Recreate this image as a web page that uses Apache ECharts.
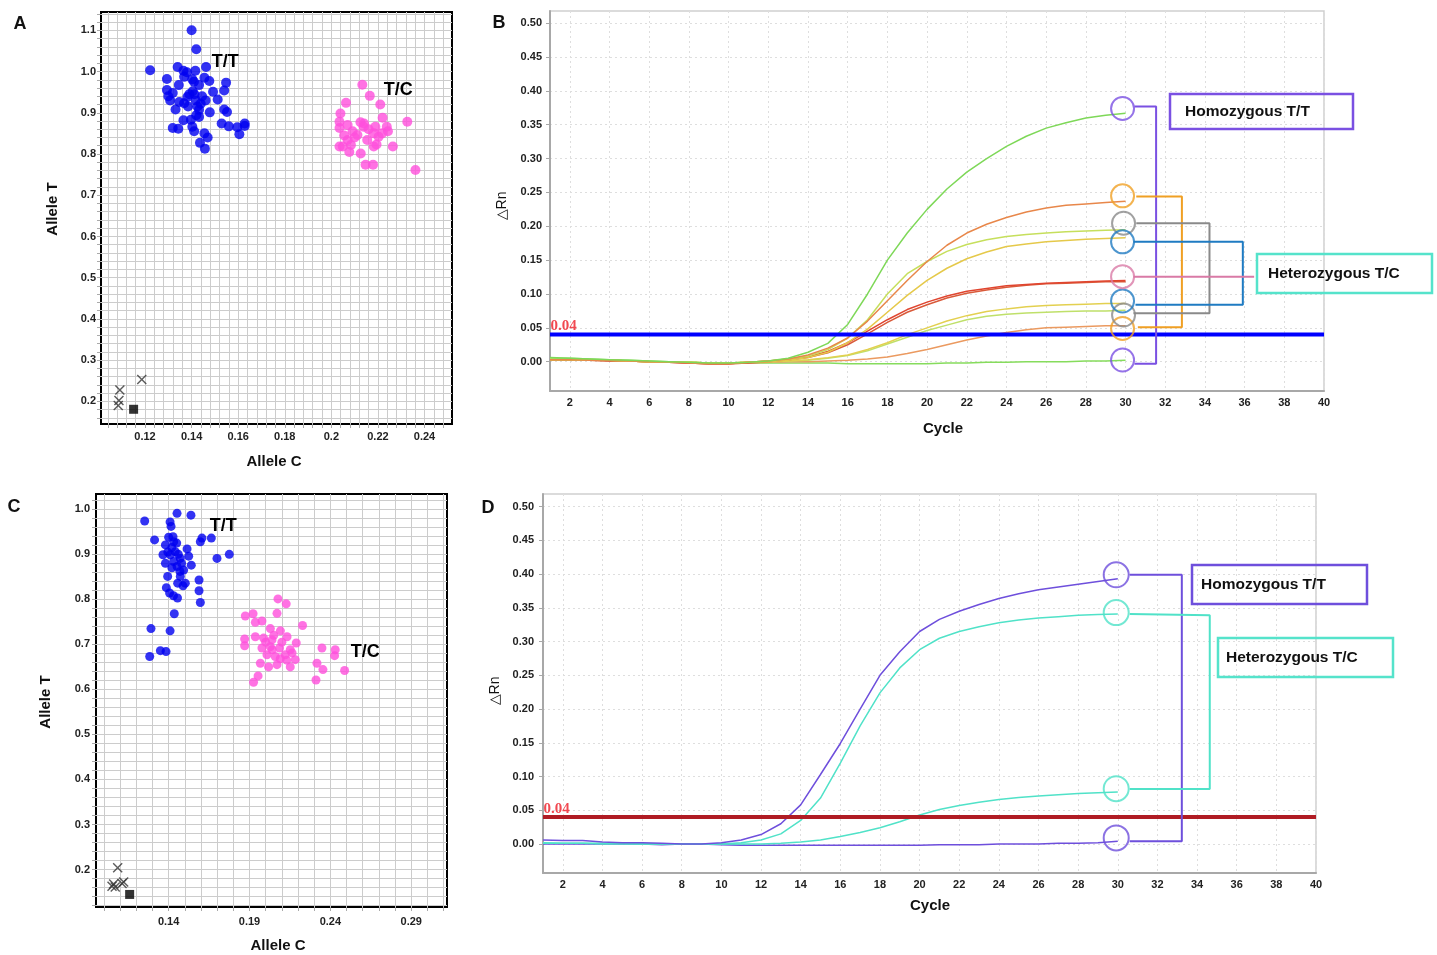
<!DOCTYPE html>
<html><head><meta charset="utf-8">
<script src="https://cdn.jsdelivr.net/npm/echarts@6/dist/echarts.min.js"></script>
<style>html,body{margin:0;padding:0;background:#fff}#c{width:1437px;height:955px}</style>
</head><body><div id="c"></div>
<script>
// ---------- DATA ----------
// Panel A scatter (Allele C, Allele T)
const aTT = [[0.1400,1.100],[0.1420,1.054],[0.1222,1.003],[0.1340,1.011],[0.1365,1.002],[0.1380,0.998],[0.1416,1.002],[0.1462,1.011],[0.1294,0.982],[0.1368,0.987],[0.1403,0.981],[0.1455,0.985],[0.1476,0.977],[0.1548,0.973],[0.1345,0.967],[0.1294,0.955],[0.1319,0.948],[0.1405,0.952],[0.1412,0.945],[0.1432,0.967],[0.1492,0.951],[0.1540,0.954],[0.1308,0.930],[0.1347,0.926],[0.1368,0.923],[0.1382,0.938],[0.1418,0.930],[0.1439,0.922],[0.1460,0.930],[0.1512,0.932],[0.1331,0.908],[0.1432,0.907],[0.1432,0.890],[0.1478,0.901],[0.1540,0.908],[0.1552,0.902],[0.1365,0.882],[0.1397,0.883],[0.1420,0.894],[0.1529,0.874],[0.1560,0.867],[0.1596,0.865],[0.1628,0.874],[0.1628,0.868],[0.1319,0.863],[0.1343,0.861],[0.1403,0.866],[0.1411,0.855],[0.1455,0.850],[0.1469,0.840],[0.1605,0.848],[0.1436,0.827],[0.1457,0.813],[0.1390,0.945],[0.1425,0.915],[0.1445,0.940],[0.1385,0.915],[0.1410,0.975],[0.1300,0.940]];
const aTC = [[0.2133,0.968],[0.2165,0.941],[0.2210,0.920],[0.2063,0.924],[0.2039,0.898],[0.2220,0.888],[0.2326,0.878],[0.2035,0.878],[0.2070,0.870],[0.2125,0.877],[0.2140,0.874],[0.2138,0.866],[0.2035,0.863],[0.2091,0.855],[0.2112,0.846],[0.2189,0.866],[0.2238,0.866],[0.2243,0.855],[0.2182,0.850],[0.2218,0.850],[0.2203,0.842],[0.2154,0.834],[0.2070,0.834],[0.2049,0.818],[0.2035,0.818],[0.2084,0.822],[0.2077,0.805],[0.2126,0.801],[0.2182,0.818],[0.2194,0.823],[0.2264,0.818],[0.2147,0.774],[0.2179,0.774],[0.2361,0.761],[0.2100,0.840],[0.2160,0.860],[0.2055,0.845]];
const aNTC = [[0.1092,0.228],[0.1088,0.202],[0.1085,0.190],[0.1186,0.253]];
const aBlank = [[0.1151,0.181]];
const aText = [[0.1544,1.0225,'T/T'],[0.2287,0.955,'T/C']];

// Panel C scatter
const cTT = [[0.1252,0.974],[0.1452,0.991],[0.1538,0.987],[0.1409,0.972],[0.1415,0.962],[0.1313,0.932],[0.1400,0.938],[0.1427,0.939],[0.1431,0.928],[0.1596,0.928],[0.1606,0.936],[0.1664,0.936],[0.1380,0.921],[0.1365,0.899],[0.1410,0.899],[0.1441,0.906],[0.1472,0.891],[0.1514,0.912],[0.1524,0.896],[0.1380,0.880],[0.1431,0.884],[0.1452,0.873],[0.1493,0.865],[0.1540,0.876],[0.1699,0.891],[0.1775,0.900],[0.1394,0.851],[0.1472,0.851],[0.1456,0.836],[0.1489,0.830],[0.1503,0.836],[0.1588,0.843],[0.1386,0.826],[0.1406,0.814],[0.1430,0.808],[0.1455,0.803],[0.1588,0.819],[0.1596,0.793],[0.1435,0.768],[0.1291,0.735],[0.1409,0.730],[0.1283,0.673],[0.1349,0.686],[0.1384,0.684],[0.1420,0.915],[0.1460,0.900],[0.1395,0.905],[0.1450,0.925],[0.1480,0.880],[0.1420,0.870],[0.1470,0.862]];
const cTC = [[0.2076,0.801],[0.2127,0.790],[0.2070,0.769],[0.1874,0.763],[0.1922,0.768],[0.1977,0.752],[0.1936,0.749],[0.2228,0.742],[0.2029,0.735],[0.2091,0.730],[0.1936,0.717],[0.1987,0.714],[0.2132,0.717],[0.1870,0.712],[0.1870,0.697],[0.2039,0.710],[0.2189,0.703],[0.1977,0.692],[0.2029,0.695],[0.2086,0.692],[0.2152,0.688],[0.2348,0.692],[0.2430,0.688],[0.2426,0.675],[0.2008,0.677],[0.2059,0.673],[0.2121,0.677],[0.2163,0.681],[0.2183,0.666],[0.1967,0.658],[0.2018,0.650],[0.2070,0.655],[0.2152,0.650],[0.2317,0.658],[0.2354,0.644],[0.2488,0.642],[0.1953,0.630],[0.1925,0.616],[0.2311,0.621],[0.2050,0.720],[0.2000,0.705],[0.2100,0.705],[0.2130,0.665],[0.2090,0.668],[0.2040,0.688]];
const cNTC = [[0.1085,0.204],[0.1050,0.163],[0.1070,0.161],[0.1112,0.169],[0.1122,0.172],[0.1060,0.168]];
const cBlank = [[0.1159,0.1446]];
const cText = [[0.1738,0.963,'T/T'],[0.2615,0.6835,'T/C']];

// Tick labels
const aXLabels = [0.12,0.14,0.16,0.18,0.2,0.22,0.24];
const aYLabels = [0.2,0.3,0.4,0.5,0.6,0.7,0.8,0.9,1.0,1.1];
const cXLabels = [0.14,0.19,0.24,0.29];
const cYLabels = [0.2,0.3,0.4,0.5,0.6,0.7,0.8,0.9,1.0];
const qXLabels = [2,4,6,8,10,12,14,16,18,20,22,24,26,28,30,32,34,36,38,40];
const qYLabels = [0,0.05,0.10,0.15,0.20,0.25,0.30,0.35,0.40,0.45,0.50];

// Amplification curves (cycles 1..30)
const cycles = [1,2,3,4,5,6,7,8,9,10,11,12,13,14,15,16,17,18,19,20,21,22,23,24,25,26,27,28,29,30];
const bGreenTop  = [0.006,0.005,0.004,0.003,0.002,0.001,0.0,-0.001,-0.002,-0.002,-0.001,0.001,0.005,0.014,0.027,0.055,0.10,0.15,0.19,0.225,0.255,0.28,0.30,0.318,0.333,0.345,0.353,0.36,0.364,0.367];
const bOrangeTop = [0.003,0.003,0.002,0.002,0.001,0.0,0.0,-0.002,-0.003,-0.003,-0.001,0.001,0.004,0.01,0.02,0.035,0.06,0.09,0.12,0.148,0.172,0.19,0.203,0.213,0.221,0.227,0.231,0.233,0.235,0.237];
const bYgTop     = [0.003,0.003,0.002,0.002,0.001,0.0,0.0,-0.001,-0.002,-0.002,-0.001,0.001,0.004,0.008,0.018,0.035,0.062,0.1,0.13,0.148,0.163,0.173,0.18,0.185,0.188,0.19,0.192,0.193,0.194,0.195];
const bYellowTop = [0.003,0.003,0.002,0.002,0.001,0.0,0.0,-0.001,-0.002,-0.002,-0.001,0.0,0.002,0.006,0.014,0.028,0.048,0.073,0.098,0.12,0.138,0.152,0.162,0.17,0.174,0.177,0.179,0.181,0.182,0.183];
const bRed1      = [0.003,0.003,0.002,0.002,0.001,0.0,-0.001,-0.002,-0.003,-0.003,-0.001,0.001,0.003,0.007,0.015,0.028,0.045,0.062,0.077,0.088,0.097,0.104,0.108,0.112,0.114,0.116,0.117,0.118,0.119,0.12];
const bRed2      = [0.002,0.002,0.002,0.001,0.001,0.0,-0.001,-0.002,-0.003,-0.003,-0.002,0.0,0.003,0.006,0.013,0.025,0.041,0.058,0.073,0.084,0.094,0.101,0.106,0.11,0.113,0.115,0.116,0.117,0.118,0.118];
const bYellowLow = [0.003,0.003,0.002,0.002,0.001,0.0,0.0,-0.001,-0.002,-0.002,-0.001,0.0,0.001,0.003,0.006,0.01,0.018,0.028,0.04,0.05,0.06,0.068,0.074,0.078,0.081,0.083,0.084,0.085,0.086,0.086];
const bYgLow     = [0.004,0.003,0.003,0.002,0.001,0.0,0.0,-0.001,-0.002,-0.002,-0.001,0.0,0.001,0.002,0.005,0.009,0.016,0.026,0.036,0.046,0.054,0.062,0.067,0.07,0.072,0.073,0.074,0.075,0.075,0.076];
const bOrangeLow = [0.002,0.002,0.002,0.001,0.001,0.0,-0.001,-0.002,-0.003,-0.003,-0.002,-0.001,0.0,0.0,0.001,0.002,0.004,0.007,0.012,0.018,0.025,0.032,0.038,0.043,0.047,0.05,0.051,0.052,0.053,0.053];
const bGreenFlat = [0.005,0.005,0.004,0.003,0.002,0.001,0.0,-0.001,-0.002,-0.002,-0.002,-0.002,-0.002,-0.002,-0.002,-0.003,-0.003,-0.003,-0.003,-0.003,-0.002,-0.002,-0.001,-0.001,0.0,0.0,0.0,0.001,0.001,0.002];

const dPurpleTop  = [0.006,0.005,0.005,0.003,0.002,0.002,0.001,0.0,0.0,0.002,0.006,0.014,0.03,0.058,0.103,0.149,0.2,0.25,0.285,0.315,0.333,0.345,0.355,0.364,0.371,0.377,0.381,0.385,0.389,0.393];
const dTurqTop    = [0.002,0.001,0.001,0.001,0.001,0.0,0.0,0.0,0.0,0.0,0.002,0.006,0.015,0.035,0.068,0.12,0.175,0.224,0.261,0.288,0.305,0.315,0.322,0.328,0.332,0.335,0.337,0.339,0.34,0.341];
const dTurqLow    = [0.001,0.001,0.001,0.0,0.0,0.0,0.0,0.0,0.0,0.0,0.0,0.0,0.001,0.003,0.006,0.011,0.017,0.024,0.033,0.043,0.051,0.057,0.062,0.066,0.069,0.071,0.073,0.075,0.076,0.077];
const dPurpleFlat = [0.0,0.0,0.0,0.0,0.0,0.0,-0.001,0.0,0.0,-0.001,-0.002,-0.002,-0.002,-0.002,-0.002,-0.002,-0.002,-0.002,-0.002,-0.002,-0.001,-0.001,-0.001,0.0,0.0,0.0,0.001,0.001,0.002,0.004];

const threshold = 0.04;
const thresholdSpan = [1, 40];

// Annotation circles and brackets (cycle, ΔRn)
const bCircles = [
  {c:'#7a50e2', pts:[[29.85,0.374],[29.85,0.0025]]},
  {c:'#f0a024', pts:[[29.85,0.245],[29.85,0.049]]},
  {c:'#8a8a8a', pts:[[29.9,0.2045],[29.9,0.069]]},
  {c:'#1f7bc2', pts:[[29.85,0.177],[29.85,0.0897]]},
  {c:'#d97aa6', pts:[[29.85,0.1256]]}
];
const bBrackets = [
  {c:'#7a50e2', pts:[[30.45,0.377],[31.54,0.377],[31.54,-0.003],[30.45,-0.003]]},
  {c:'#f0a024', pts:[[30.54,0.244],[32.84,0.244],[32.84,0.051],[30.62,0.051]]},
  {c:'#8a8a8a', pts:[[30.54,0.2045],[34.23,0.2045],[34.23,0.0715],[30.4,0.0715]]},
  {c:'#1f7bc2', pts:[[30.4,0.177],[35.91,0.177],[35.91,0.084],[30.5,0.084]]},
  {c:'#d97aa6', pts:[[30.4,0.1256],[36.48,0.1256]]}
];
const dCircles = [
  {c:'#6e4fdc', pts:[[29.92,0.399],[29.92,0.009]]},
  {c:'#50e2c8', pts:[[29.92,0.343],[29.92,0.082]]}
];
const dBrackets = [
  {c:'#6e4fdc', pts:[[30.6,0.399],[33.23,0.399],[33.23,0.004],[30.6,0.004]]},
  {c:'#50e2c8', pts:[[30.6,0.341],[34.64,0.339],[34.64,0.0815],[30.6,0.0815]]}
];

// ---------- CHART ----------
function steps(a, b, s){ const o=[]; for(let v=a; v<=b+1e-9; v+=s) o.push(+v.toFixed(4)); return o; }
const pair = ys => cycles.map((c,i)=>[c, ys[i]]);
const FONT = 'Liberation Sans, Arial, sans-serif';
const tickLabel = {fontSize:11, fontWeight:'bold', color:'#222', fontFamily:FONT};

function scatterX(idx, min, max, dense, labels, margin, fmt){
  return {gridIndex:idx, type:'value', min, max,
    axisLine:{show:false, onZero:false},
    axisTick:{show:true, length:4, lineStyle:{color:'#aaa'}, customValues:dense},
    axisLabel:Object.assign({customValues:labels, margin, formatter:fmt}, tickLabel),
    splitLine:{show:true, lineStyle:{color:'#cccccc', width:1}}};
}
function qAxisX(idx, margin){
  return {gridIndex:idx, type:'value', min:1, max:40,
    axisLine:{show:true, onZero:false, lineStyle:{color:'#a8a8a8', width:2}},
    axisTick:{show:false, customValues:qXLabels},
    axisLabel:Object.assign({customValues:qXLabels, margin, formatter:v=>String(Math.round(v))}, tickLabel),
    splitLine:{show:true, lineStyle:{color:'#dedede', type:[2,3], width:1}}};
}
function qAxisY(idx, min, max, margin){
  return {gridIndex:idx, type:'value', min, max,
    axisLine:{show:true, onZero:false, lineStyle:{color:'#a8a8a8', width:2}},
    axisTick:{show:true, length:4, lineStyle:{color:'#a8a8a8'}, customValues:qYLabels},
    axisLabel:Object.assign({customValues:qYLabels, margin, formatter:v=>v.toFixed(2)}, tickLabel),
    splitLine:{show:true, lineStyle:{color:'#dedede', type:[2,3], width:1}}};
}

const xSym = 'path://M0,1L1,0L5,4L9,0L10,1L6,5L10,9L9,10L5,6L1,10L0,9L4,5Z';

function textPoints(xi, data){
  return {type:'scatter', xAxisIndex:xi, yAxisIndex:xi, symbolSize:1, itemStyle:{color:'rgba(0,0,0,0)'},
    data:data.map(d=>({value:[d[0],d[1]], label:{formatter:d[2]}})),
    label:{show:true, position:'inside', fontSize:18, fontWeight:'bold', color:'#000', textBorderWidth:0, opacity:1, fontFamily:FONT}, z:5};
}

const series = [];
// Panel A
series.push({type:'scatter', xAxisIndex:0, yAxisIndex:0, data:aTT, symbolSize:10, itemStyle:{color:'#0000f0'}});
series.push({type:'scatter', xAxisIndex:0, yAxisIndex:0, data:aTC, symbolSize:10, itemStyle:{color:'#ff4fdc'}});
series.push({type:'scatter', xAxisIndex:0, yAxisIndex:0, data:aNTC, symbol:xSym, symbolSize:10, itemStyle:{color:'#333'}});
series.push({type:'scatter', xAxisIndex:0, yAxisIndex:0, data:aBlank, symbol:'rect', symbolSize:9, itemStyle:{color:'#000'}});
series.push(textPoints(0, aText));
// Panel C
series.push({type:'scatter', xAxisIndex:2, yAxisIndex:2, data:cTT, symbolSize:9, itemStyle:{color:'#0000f0'}});
series.push({type:'scatter', xAxisIndex:2, yAxisIndex:2, data:cTC, symbolSize:9, itemStyle:{color:'#ff4fdc'}});
series.push({type:'scatter', xAxisIndex:2, yAxisIndex:2, data:cNTC, symbol:xSym, symbolSize:10, itemStyle:{color:'#333'}});
series.push({type:'scatter', xAxisIndex:2, yAxisIndex:2, data:cBlank, symbol:'rect', symbolSize:9, itemStyle:{color:'#000'}});
series.push(textPoints(2, cText));

// Panel B curves
const bCurves = [
  [bGreenFlat,'#86dc5c'],[bOrangeLow,'#eb9a60'],[bYgLow,'#bfe06a'],[bYellowLow,'#e3d050'],
  [bRed2,'#d95a3a'],[bRed1,'#e0452f'],[bYellowTop,'#e5c94a'],[bYgTop,'#c6df5c'],
  [bOrangeTop,'#e8874a'],[bGreenTop,'#7ed858']
];
bCurves.forEach(([ys,c])=>series.push({type:'line', xAxisIndex:1, yAxisIndex:1, data:pair(ys), symbol:'none', lineStyle:{color:c, width:1.5}}));
// Panel D curves
[[dPurpleFlat,'#6e4fdc'],[dTurqLow,'#50e2c8'],[dTurqTop,'#50e2c8'],[dPurpleTop,'#6e4fdc']]
  .forEach(([ys,c])=>series.push({type:'line', xAxisIndex:3, yAxisIndex:3, data:pair(ys), symbol:'none', lineStyle:{color:c, width:1.5}}));

// thresholds
function thresholdSeries(xi, color){
  series.push({type:'line', xAxisIndex:xi, yAxisIndex:xi, data:thresholdSpan.map(x=>[x,threshold]), symbol:'none', lineStyle:{color, width:4}, z:3});
  series.push({type:'scatter', xAxisIndex:xi, yAxisIndex:xi, symbolSize:1, itemStyle:{color:'rgba(0,0,0,0)'},
    data:[[thresholdSpan[0], threshold]], z:4,
    label:{show:true, position:'right', distance:0, offset:[0,-8], formatter:()=>threshold.toFixed(2),
      fontFamily:'Liberation Serif, Times New Roman, serif', fontWeight:'bold', fontSize:15, color:'#ee1c25'}});
}
thresholdSeries(1, '#0000ff');
thresholdSeries(3, '#b01c24');

// annotation brackets & circles
function annot(xi, circles, brackets, size){
  brackets.forEach(b=>series.push({type:'line', xAxisIndex:xi, yAxisIndex:xi, data:b.pts, symbol:'none', lineStyle:{color:b.c, width:2}, z:5}));
  circles.forEach(cc=>series.push({type:'scatter', xAxisIndex:xi, yAxisIndex:xi, data:cc.pts, symbol:'circle', symbolSize:size,
    itemStyle:{color:'rgba(0,0,0,0)', borderColor:cc.c, borderWidth:2}, z:6}));
}
annot(1, bCircles, bBrackets, 23);
annot(3, dCircles, dBrackets, 25);

function txt(x, y, text, opt){
  return {type:'text', x, y, style:Object.assign({text, fill:'#111', fontFamily:FONT, fontSize:15, fontWeight:'bold', align:'center', verticalAlign:'middle'}, opt||{})};
}
function rtxt(x, y, text, opt){
  const t = txt(x, y, text, opt); t.rotation = Math.PI/2; return t;
}
function box(x, y, w, h, color, text, tx){
  return [
    {type:'rect', shape:{x, y, width:w, height:h}, style:{fill:'rgba(0,0,0,0)', stroke:color, lineWidth:2.5}, z:10},
    {type:'text', x:tx, y:y+h/2, z:11, style:{text, fill:'#111', fontFamily:FONT, fontSize:15.5, fontWeight:'bold', align:'left', verticalAlign:'middle'}}
  ];
}

const graphic = [
  txt(20, 24, 'A', {fontSize:18}), txt(499, 23, 'B', {fontSize:18}),
  txt(14, 507, 'C', {fontSize:18}), txt(488, 508, 'D', {fontSize:18}),
  rtxt(53, 209, 'Allele T'), txt(274, 462, 'Allele C'),
  rtxt(46, 702, 'Allele T'), txt(278, 946, 'Allele C'),
  rtxt(502, 206, '△Rn', {fontWeight:'normal', fontSize:14}), txt(943, 429, 'Cycle'),
  rtxt(495, 691, '△Rn', {fontWeight:'normal', fontSize:14}), txt(930, 906, 'Cycle'),
  ...box(1170, 94, 183, 35, '#7a50e2', 'Homozygous T/T', 1185),
  ...box(1257, 254, 175, 39, '#55e3cb', 'Heterozygous T/C', 1268),
  ...box(1192, 565, 175, 39, '#6e4fdc', 'Homozygous T/T', 1201),
  ...box(1218, 638, 175, 39, '#55e3cb', 'Heterozygous T/C', 1226)
];

const option = {
  animation:false,
  backgroundColor:'#fff',
  textStyle:{fontFamily:FONT},
  grid:[
    {left:101, top:12, width:351, height:412, show:true, borderColor:'#000', borderWidth:2},
    {left:550, top:11, width:774, height:380, show:true, borderColor:'#cfcfcf', borderWidth:1.5},
    {left:96, top:494, width:351, height:413, show:true, borderColor:'#000', borderWidth:2},
    {left:543, top:494, width:773, height:379, show:true, borderColor:'#cfcfcf', borderWidth:1.5}
  ],
  xAxis:[
    scatterX(0, 0.1011, 0.2518, steps(0.104,0.248,0.004), aXLabels, 7, v=>String(+v.toFixed(2))),
    qAxisX(1, 6),
    scatterX(2, 0.0951, 0.3121, steps(0.10,0.31,0.01), cXLabels, 9, v=>String(+v.toFixed(2))),
    qAxisX(3, 6)
  ],
  yAxis:[
    scatterX(0, 0.1453, 1.1443, steps(0.16,1.14,0.02), aYLabels, 5, v=>v.toFixed(1)),
    qAxisY(1, -0.0433, 0.518, 8),
    scatterX(2, 0.1167, 1.034, steps(0.12,1.02,0.02), cYLabels, 6, v=>v.toFixed(1)),
    qAxisY(3, -0.043, 0.5188, 9)
  ],
  series,
  graphic
};
const chart = echarts.init(document.getElementById('c'), null, {renderer:'canvas'});
chart.setOption(option);
</script></body></html>
